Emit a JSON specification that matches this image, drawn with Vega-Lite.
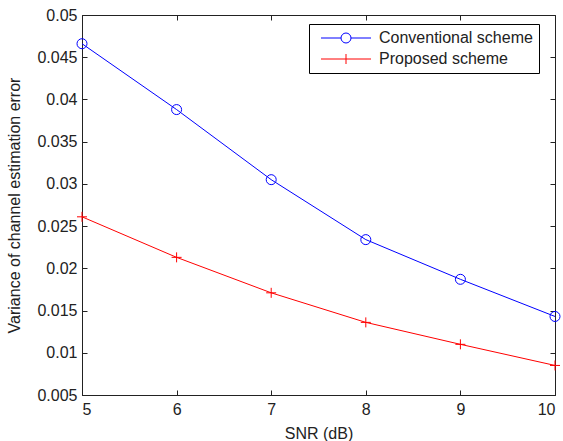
{
  "$schema": "https://vega.github.io/schema/vega-lite/v6.json",
  "width": 473,
  "height": 380,
  "autosize": {"type": "none"},
  "padding": {"left": 82, "top": 15, "right": 8, "bottom": 46},
  "background": "white",
  "data": {
    "values": [
      {"snr": 5, "scheme": "Conventional scheme", "variance": 0.0466},
      {"snr": 6, "scheme": "Conventional scheme", "variance": 0.0388},
      {"snr": 7, "scheme": "Conventional scheme", "variance": 0.0305},
      {"snr": 8, "scheme": "Conventional scheme", "variance": 0.0234},
      {"snr": 9, "scheme": "Conventional scheme", "variance": 0.0187},
      {"snr": 10, "scheme": "Conventional scheme", "variance": 0.0143},
      {"snr": 5, "scheme": "Proposed scheme", "variance": 0.0261},
      {"snr": 6, "scheme": "Proposed scheme", "variance": 0.0213},
      {"snr": 7, "scheme": "Proposed scheme", "variance": 0.0171},
      {"snr": 8, "scheme": "Proposed scheme", "variance": 0.0136},
      {"snr": 9, "scheme": "Proposed scheme", "variance": 0.0110},
      {"snr": 10, "scheme": "Proposed scheme", "variance": 0.0085}
    ]
  },
  "config": {
    "view": {"stroke": "#222", "strokeWidth": 1},
    "axis": {
      "grid": false,
      "labelFont": "Liberation Sans",
      "titleFont": "Liberation Sans",
      "labelFontSize": 16,
      "titleFontSize": 16,
      "titleFontWeight": "normal",
      "labelColor": "#222",
      "titleColor": "#222",
      "domainColor": "#222",
      "tickColor": "#222",
      "tickSize": -5
    },
    "legend": {
      "orient": "none",
      "legendX": 227,
      "legendY": 9,
      "strokeColor": "#000",
      "fillColor": "white",
      "padding": 6,
      "labelFont": "Liberation Sans",
      "labelFontSize": 16,
      "labelColor": "#222",
      "labelOffset": 48,
      "rowPadding": 5,
      "symbolStrokeWidth": 1,
      "symbolSize": 100
    }
  },
  "layer": [
    {
      "mark": {"type": "line", "strokeWidth": 1},
      "encoding": {
        "x": {
          "field": "snr", "type": "quantitative",
          "scale": {"domain": [5, 10], "nice": false},
          "axis": {"values": [5, 6, 7, 8, 9, 10], "title": "SNR (dB)", "titlePadding": 8, "labelPadding": 11}
        },
        "y": {
          "field": "variance", "type": "quantitative",
          "scale": {"domain": [0.005, 0.05], "nice": false, "zero": false},
          "axis": {
            "values": [0.005, 0.01, 0.015, 0.02, 0.025, 0.03, 0.035, 0.04, 0.045, 0.05],
            "format": "~g",
            "title": "Variance of channel estimation error",
            "titlePadding": 14,
            "labelPadding": 10
          }
        },
        "color": {
          "field": "scheme", "type": "nominal",
          "scale": {"domain": ["Conventional scheme", "Proposed scheme"], "range": ["#0000ff", "#ff0000"]},
          "legend": {
            "title": null,
            "encode": {
              "symbols": {
                "update": {
                  "shape": {"signal": "datum.value === 'Conventional scheme' ? 'M-0.4,0H3.6M5.6,0H9.6M5.6,0A1,1 0 1 1 3.6,0A1,1 0 1 1 5.6,0' : 'M-0.4,0H9.6M4.6,-1V1'"},
                  "fill": {"value": "transparent"}
                }
              }
            }
          }
        }
      }
    },
    {
      "transform": [{"filter": "datum.scheme === 'Conventional scheme'"}],
      "mark": {"type": "point", "shape": "circle", "filled": false, "strokeWidth": 1, "size": 100, "opacity": 1},
      "encoding": {
        "x": {
          "field": "snr", "type": "quantitative",
          "axis": {"orient": "top", "values": [5, 6, 7, 8, 9, 10], "labels": false, "title": null, "domain": false}
        },
        "y": {
          "field": "variance", "type": "quantitative",
          "axis": {"orient": "right", "values": [0.005, 0.01, 0.015, 0.02, 0.025, 0.03, 0.035, 0.04, 0.045, 0.05], "labels": false, "title": null, "domain": false}
        },
        "color": {"field": "scheme", "type": "nominal", "legend": null}
      }
    },
    {
      "transform": [{"filter": "datum.scheme === 'Proposed scheme'"}],
      "mark": {"type": "point", "shape": "M-1,0H1M0,-1V1", "filled": false, "strokeWidth": 1, "size": 100, "opacity": 1},
      "encoding": {
        "x": {"field": "snr", "type": "quantitative", "axis": null},
        "y": {"field": "variance", "type": "quantitative", "axis": null},
        "color": {"field": "scheme", "type": "nominal", "legend": null}
      }
    }
  ],
  "resolve": {"axis": {"x": "independent", "y": "independent"}}
}
